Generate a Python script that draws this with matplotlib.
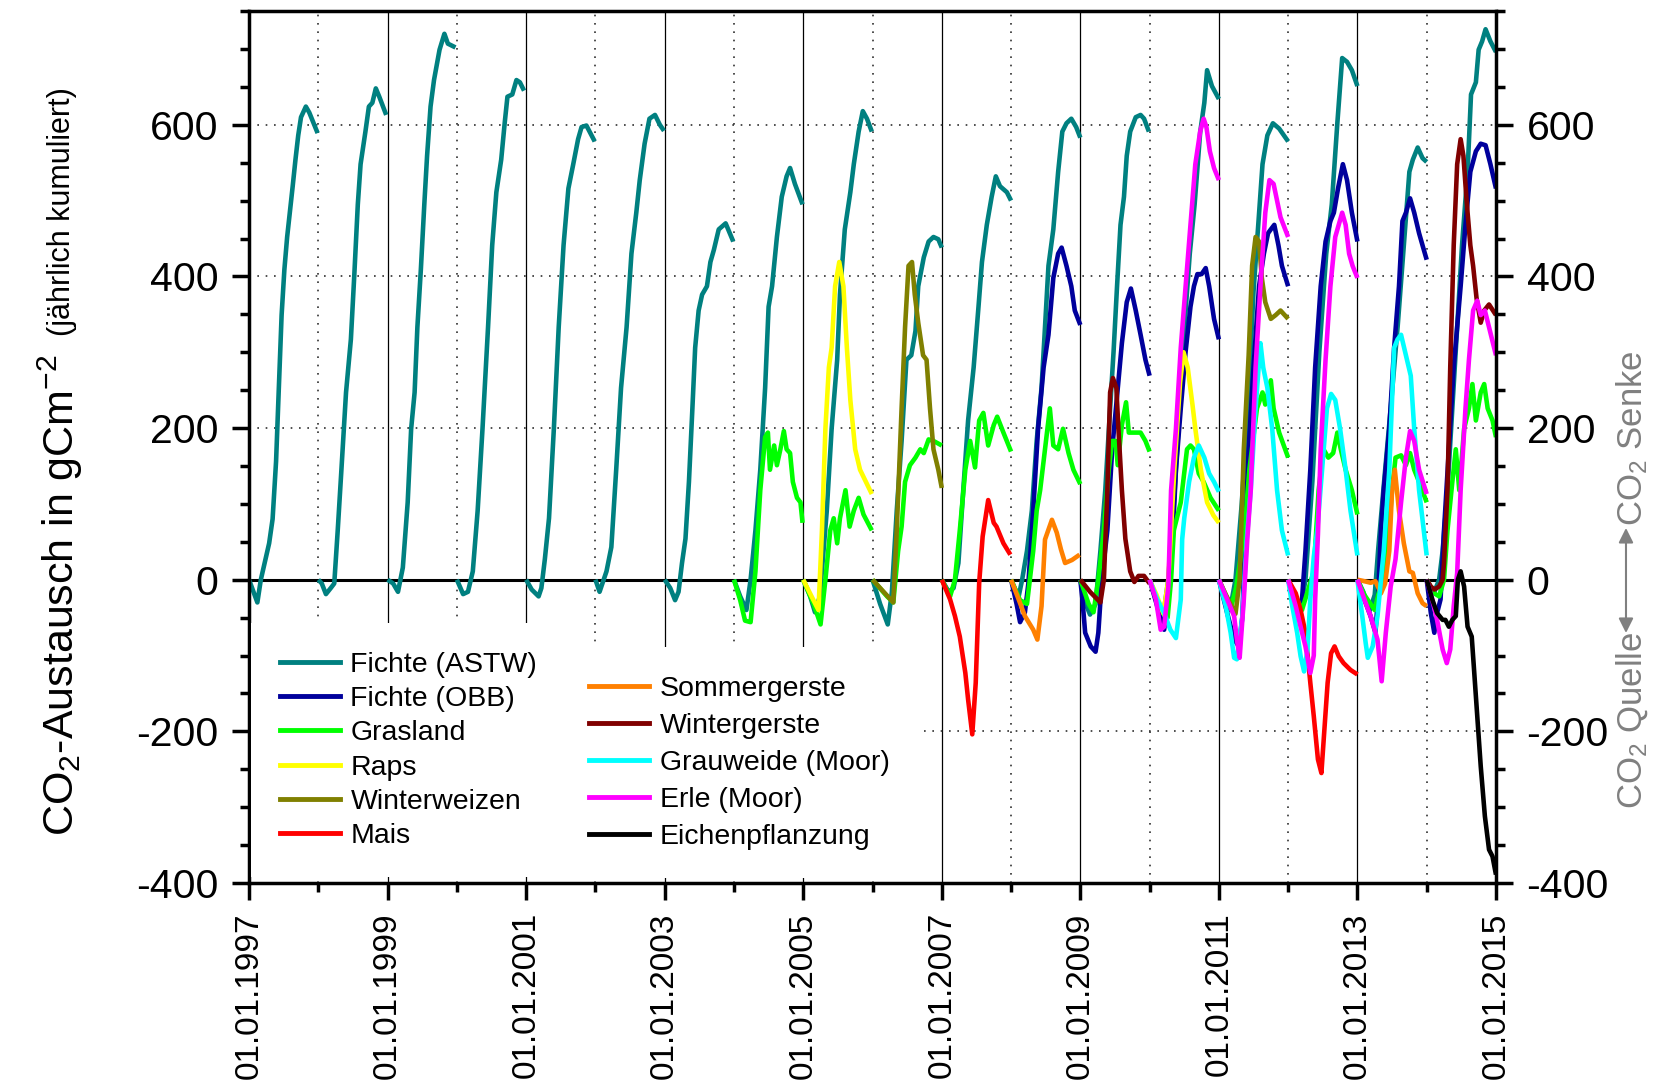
import numpy as np
import matplotlib
matplotlib.use('Agg')
import matplotlib.pyplot as plt
from matplotlib.ticker import MultipleLocator
from matplotlib.lines import Line2D

# cumulated CO2 exchange: one list of (time, value) per year
fichte_astw = [
    [(1997.00, 0), (1997.06, -15), (1997.12, -30), (1997.17, 0), (1997.29, 48), (1997.34, 80), (1997.39, 156),
     (1997.43, 253), (1997.47, 349), (1997.51, 409), (1997.55, 452), (1997.63, 519), (1997.67, 554),
     (1997.71, 586), (1997.75, 610), (1997.82, 624), (1997.87, 616), (1997.99, 589)],
    [(1998.00, 0), (1998.05, -5), (1998.11, -19), (1998.18, -11), (1998.23, -5), (1998.28, 65), (1998.33, 140),
     (1998.40, 247), (1998.47, 317), (1998.52, 403), (1998.57, 495), (1998.61, 548), (1998.68, 591),
     (1998.73, 624), (1998.78, 629), (1998.83, 648), (1998.88, 637), (1998.98, 613)],
    [(1999.00, 0), (1999.08, -5), (1999.15, -16), (1999.22, 16), (1999.29, 102), (1999.34, 199), (1999.39, 247),
     (1999.43, 333), (1999.48, 409), (1999.53, 495), (1999.57, 559), (1999.62, 624), (1999.67, 659),
     (1999.75, 699), (1999.82, 720), (1999.87, 707), (1999.98, 702)],
    [(2000.00, 0), (2000.09, -19), (2000.16, -16), (2000.23, 11), (2000.30, 91), (2000.37, 199), (2000.45, 333),
     (2000.51, 441), (2000.57, 511), (2000.64, 554), (2000.69, 602), (2000.73, 637), (2000.80, 640),
     (2000.86, 659), (2000.91, 656), (2000.97, 645)],
    [(2001.00, 0), (2001.08, -13), (2001.18, -22), (2001.22, -11), (2001.27, 27), (2001.33, 81), (2001.40, 199),
     (2001.47, 333), (2001.54, 441), (2001.61, 516), (2001.68, 548), (2001.75, 581), (2001.80, 597),
     (2001.87, 599), (2001.99, 578)],
    [(2002.00, 0), (2002.06, -16), (2002.16, 11), (2002.23, 43), (2002.30, 145), (2002.37, 253), (2002.45, 333),
     (2002.52, 430), (2002.59, 484), (2002.64, 527), (2002.71, 575), (2002.78, 608), (2002.86, 613),
     (2002.93, 600), (2002.99, 592)],
    [(2003.00, 0), (2003.08, -11), (2003.15, -27), (2003.20, -16), (2003.25, 22), (2003.30, 54), (2003.35, 129),
     (2003.40, 226), (2003.44, 306), (2003.49, 355), (2003.54, 376), (2003.61, 387), (2003.66, 419),
     (2003.71, 435), (2003.78, 462), (2003.88, 470), (2003.99, 446)],
    [(2004.00, 0), (2004.09, -22), (2004.18, -40), (2004.24, 0), (2004.31, 65), (2004.38, 145), (2004.45, 253),
     (2004.50, 360), (2004.55, 387), (2004.62, 452), (2004.69, 505), (2004.76, 532), (2004.81, 543),
     (2004.88, 522), (2004.99, 495)],
    [(2005.00, 0), (2005.10, -22), (2005.17, -43), (2005.24, -22), (2005.34, 91), (2005.41, 199), (2005.49, 290),
     (2005.53, 376), (2005.60, 462), (2005.68, 511), (2005.73, 548), (2005.80, 591), (2005.86, 618),
     (2005.92, 608), (2005.99, 591)],
    [(2006.00, 0), (2006.11, -32), (2006.22, -59), (2006.28, -16), (2006.35, 91), (2006.42, 183), (2006.49, 290),
     (2006.56, 296), (2006.62, 328), (2006.66, 387), (2006.74, 425), (2006.81, 446), (2006.88, 452),
     (2006.95, 449), (2007.00, 438)],
    [(2007.00, 0), (2007.10, -16), (2007.17, -11), (2007.24, 22), (2007.31, 118), (2007.38, 210), (2007.46, 280),
     (2007.53, 360), (2007.58, 419), (2007.65, 468), (2007.72, 505), (2007.78, 532), (2007.84, 519),
     (2007.94, 511), (2008.00, 500)],
    [(2008.00, 0), (2008.07, -15), (2008.11, -22), (2008.16, 0), (2008.23, 38), (2008.30, 91), (2008.37, 183),
     (2008.44, 253), (2008.49, 333), (2008.54, 414), (2008.61, 462), (2008.68, 538), (2008.74, 591),
     (2008.80, 602), (2008.87, 608), (2008.94, 597), (2009.00, 583)],
    [(2009.00, 0), (2009.07, -30), (2009.14, -46), (2009.22, -32), (2009.29, 38), (2009.36, 118), (2009.43, 226),
     (2009.48, 301), (2009.53, 387), (2009.58, 468), (2009.63, 505), (2009.67, 559), (2009.72, 591),
     (2009.80, 610), (2009.87, 613), (2009.92, 608), (2009.99, 591)],
    [(2010.00, 0), (2010.10, -25), (2010.20, -45), (2010.27, 0), (2010.35, 100), (2010.43, 220), (2010.50, 330),
     (2010.58, 430), (2010.65, 495), (2010.73, 590), (2010.79, 629), (2010.83, 672), (2010.90, 651),
     (2011.00, 634)],
    [(2011.00, 0), (2011.08, -20), (2011.16, -40), (2011.24, 0), (2011.33, 100), (2011.42, 230), (2011.50, 380),
     (2011.57, 470), (2011.63, 548), (2011.70, 586), (2011.78, 602), (2011.87, 595), (2012.00, 578)],
    [(2012.00, 0), (2012.08, -20), (2012.17, -45), (2012.25, 0), (2012.35, 130), (2012.45, 300), (2012.55, 430),
     (2012.63, 495), (2012.71, 602), (2012.78, 688), (2012.85, 683), (2012.92, 672), (2013.00, 651)],
    [(2013.00, 0), (2013.08, -15), (2013.18, -40), (2013.25, -20), (2013.30, 40), (2013.38, 124), (2013.48, 226),
     (2013.58, 333), (2013.67, 441), (2013.75, 538), (2013.80, 554), (2013.87, 570), (2013.94, 556),
     (2014.00, 551)],
    [(2014.00, 0), (2014.06, -11), (2014.11, -16), (2014.18, 0), (2014.23, 38), (2014.30, 118), (2014.37, 226),
     (2014.44, 333), (2014.51, 441), (2014.59, 538), (2014.64, 640), (2014.71, 656), (2014.75, 699),
     (2014.80, 710), (2014.85, 726), (2014.92, 710), (2015.00, 696)],
]

fichte_obb = [
    [(2008.00, 0), (2008.08, -32), (2008.13, -56), (2008.20, -43), (2008.25, -5), (2008.32, 91), (2008.39, 199),
     (2008.47, 280), (2008.54, 323), (2008.61, 398), (2008.68, 430), (2008.73, 438), (2008.80, 414),
     (2008.87, 387), (2008.92, 355), (2009.00, 336)],
    [(2009.00, 0), (2009.03, -26), (2009.07, -70), (2009.15, -88), (2009.22, -95), (2009.26, -70), (2009.31, 0),
     (2009.39, 65), (2009.46, 172), (2009.53, 242), (2009.60, 312), (2009.67, 366), (2009.73, 384),
     (2009.80, 355), (2009.87, 323), (2009.94, 290), (2010.00, 269)],
    [(2010.00, 0), (2010.11, -35), (2010.21, -66), (2010.26, -26), (2010.33, 48), (2010.38, 145), (2010.45, 226),
     (2010.52, 301), (2010.59, 360), (2010.64, 387), (2010.69, 403), (2010.75, 403), (2010.81, 411),
     (2010.86, 387), (2010.93, 344), (2011.00, 317)],
    [(2011.00, 0), (2011.12, -44), (2011.22, -79), (2011.29, -88), (2011.34, -48), (2011.38, 65), (2011.43, 172),
     (2011.50, 280), (2011.58, 387), (2011.65, 430), (2011.71, 457), (2011.75, 462), (2011.80, 468),
     (2011.86, 441), (2011.91, 414), (2012.00, 387)],
    [(2012.00, 0), (2012.08, -26), (2012.15, -48), (2012.20, -26), (2012.25, 38), (2012.32, 145), (2012.39, 280),
     (2012.47, 387), (2012.54, 446), (2012.61, 473), (2012.66, 484), (2012.72, 516), (2012.79, 548),
     (2012.85, 527), (2012.92, 484), (2013.00, 446)],
    [(2013.00, 0), (2013.10, -26), (2013.19, -48), (2013.26, -70), (2013.30, -20), (2013.34, 65), (2013.38, 118),
     (2013.46, 199), (2013.53, 306), (2013.60, 387), (2013.65, 473), (2013.70, 484), (2013.76, 503),
     (2013.82, 484), (2013.89, 457), (2013.94, 441), (2014.00, 422)],
    [(2014.00, 0), (2014.06, -44), (2014.11, -70), (2014.15, -44), (2014.20, -26), (2014.25, 65), (2014.32, 172),
     (2014.39, 280), (2014.49, 387), (2014.56, 468), (2014.63, 538), (2014.71, 565), (2014.78, 575),
     (2014.85, 573), (2014.92, 548), (2015.00, 516)],
]

grasland = [
    [(2004.00, 0), (2004.09, -27), (2004.16, -54), (2004.24, -56), (2004.31, 11), (2004.38, 118), (2004.45, 188),
     (2004.49, 194), (2004.52, 145), (2004.58, 177), (2004.62, 151), (2004.67, 172), (2004.72, 196),
     (2004.76, 172), (2004.81, 167), (2004.85, 129), (2004.91, 108), (2004.96, 102), (2004.99, 75)],
    [(2005.00, 0), (2005.15, -32), (2005.25, -59), (2005.32, 0), (2005.39, 65), (2005.44, 81), (2005.49, 48),
     (2005.53, 81), (2005.61, 118), (2005.67, 70), (2005.73, 91), (2005.80, 108), (2005.87, 86), (2005.99, 65)],
    [(2006.00, 0), (2006.21, -22), (2006.30, -30), (2006.37, 38), (2006.42, 70), (2006.47, 129), (2006.54, 151),
     (2006.62, 161), (2006.69, 172), (2006.74, 167), (2006.81, 185), (2006.88, 183), (2007.00, 177)],
    [(2007.00, 0), (2007.12, -22), (2007.19, 0), (2007.26, 65), (2007.34, 145), (2007.41, 183), (2007.48, 148),
     (2007.54, 210), (2007.60, 220), (2007.67, 177), (2007.75, 204), (2007.80, 215), (2007.89, 194),
     (2008.00, 169)],
    [(2008.00, 0), (2008.13, -27), (2008.23, -32), (2008.32, 38), (2008.37, 91), (2008.42, 118), (2008.49, 172),
     (2008.56, 226), (2008.61, 177), (2008.68, 172), (2008.75, 199), (2008.83, 167), (2008.90, 145),
     (2009.00, 126)],
    [(2009.00, 0), (2009.12, -32), (2009.19, -43), (2009.26, 0), (2009.34, 65), (2009.41, 145), (2009.46, 183),
     (2009.51, 183), (2009.54, 151), (2009.60, 204), (2009.66, 234), (2009.70, 194), (2009.77, 194),
     (2009.87, 194), (2009.94, 183), (2010.00, 169)],
    [(2010.00, 0), (2010.10, -25), (2010.20, -44), (2010.26, -50), (2010.31, 0), (2010.35, 65), (2010.45, 102),
     (2010.54, 172), (2010.59, 177), (2010.64, 172), (2010.71, 140), (2010.78, 129), (2010.88, 108),
     (2011.00, 91)],
    [(2011.00, 0), (2011.10, -20), (2011.18, -35), (2011.25, -10), (2011.37, 65), (2011.44, 145), (2011.55, 226),
     (2011.63, 247), (2011.67, 231), (2011.75, 263), (2011.79, 226), (2011.87, 194), (2012.00, 161)],
    [(2012.00, 0), (2012.10, -20), (2012.20, -40), (2012.30, -10), (2012.37, 11), (2012.44, 118), (2012.51, 172),
     (2012.58, 161), (2012.65, 167), (2012.71, 194), (2012.76, 172), (2012.83, 145), (2012.92, 118),
     (2013.00, 86)],
    [(2013.00, 0), (2013.10, -20), (2013.25, -40), (2013.35, 0), (2013.43, 38), (2013.50, 118), (2013.55, 161),
     (2013.63, 164), (2013.70, 151), (2013.76, 167), (2013.82, 145), (2013.89, 129), (2014.00, 102)],
    [(2014.00, 0), (2014.11, -18), (2014.18, -22), (2014.25, 0), (2014.30, 65), (2014.37, 129), (2014.42, 172),
     (2014.47, 118), (2014.54, 199), (2014.61, 226), (2014.66, 258), (2014.71, 210), (2014.78, 247),
     (2014.83, 258), (2014.88, 226), (2014.95, 210), (2015.00, 188)],
]

raps = [
    [(2005.00, 0), (2005.12, -22), (2005.22, -40), (2005.27, 65), (2005.32, 199), (2005.37, 280), (2005.41, 306),
     (2005.46, 387), (2005.52, 419), (2005.58, 387), (2005.63, 306), (2005.68, 237), (2005.75, 172),
     (2005.82, 145), (2005.99, 113)],
    [(2010.00, 0), (2010.10, -20), (2010.20, -45), (2010.27, 0), (2010.36, 150), (2010.44, 260), (2010.49, 300),
     (2010.55, 280), (2010.62, 230), (2010.66, 199), (2010.74, 145), (2010.83, 102), (2010.92, 85),
     (2011.00, 75)],
]

winterweizen = [
    [(2006.00, 0), (2006.16, -16), (2006.30, -30), (2006.35, 65), (2006.42, 226), (2006.47, 333), (2006.52, 414),
     (2006.57, 419), (2006.61, 376), (2006.66, 339), (2006.73, 296), (2006.78, 290), (2006.83, 226),
     (2006.88, 172), (2006.95, 145), (2007.00, 121)],
    [(2011.00, 0), (2011.10, -20), (2011.24, -45), (2011.30, 0), (2011.36, 172), (2011.43, 296), (2011.48, 414),
     (2011.53, 452), (2011.58, 446), (2011.62, 398), (2011.67, 366), (2011.75, 344), (2011.82, 349),
     (2011.89, 355), (2012.00, 344)],
]

mais = [
    [(2007.00, 0), (2007.12, -26), (2007.19, -48), (2007.26, -75), (2007.34, -123), (2007.38, -158),
     (2007.44, -204), (2007.49, -136), (2007.54, -4), (2007.59, 57), (2007.67, 105), (2007.75, 75),
     (2007.79, 70), (2007.89, 48), (2007.99, 33)],
    [(2012.00, 0), (2012.11, -18), (2012.18, -40), (2012.25, -70), (2012.32, -136), (2012.37, -180),
     (2012.43, -237), (2012.48, -255), (2012.52, -202), (2012.57, -136), (2012.62, -97), (2012.67, -88),
     (2012.73, -101), (2012.80, -110), (2012.90, -119), (2013.00, -125)],
]

sommergerste = [
    [(2008.00, 0), (2008.11, -26), (2008.20, -48), (2008.32, -66), (2008.38, -79), (2008.44, -35), (2008.49, 53),
     (2008.59, 79), (2008.66, 62), (2008.72, 40), (2008.78, 22), (2008.88, 26), (2008.99, 33)],
    [(2013.00, 0), (2013.10, -2), (2013.19, -4), (2013.26, -2), (2013.34, -18), (2013.40, -5), (2013.46, 38),
     (2013.50, 118), (2013.54, 145), (2013.60, 91), (2013.67, 48), (2013.75, 11), (2013.80, 9), (2013.87, -18),
     (2013.94, -31), (2014.00, -35)],
]

wintergerste = [
    [(2009.00, 0), (2009.14, -16), (2009.29, -30), (2009.34, 0), (2009.39, 118), (2009.43, 247), (2009.47, 266),
     (2009.52, 253), (2009.55, 199), (2009.60, 118), (2009.65, 54), (2009.72, 11), (2009.78, -3), (2009.84, 5),
     (2009.92, 5), (2010.00, -5)],
    [(2014.00, 0), (2014.06, -9), (2014.11, -13), (2014.18, -9), (2014.23, 0), (2014.25, 22), (2014.30, 118),
     (2014.34, 280), (2014.39, 441), (2014.44, 548), (2014.49, 581), (2014.53, 559), (2014.58, 495),
     (2014.63, 441), (2014.67, 414), (2014.72, 371), (2014.78, 339), (2014.83, 355), (2014.90, 363),
     (2015.00, 349)],
]

grauweide = [
    [(2010.00, 0), (2010.11, -26), (2010.21, -44), (2010.30, -66), (2010.38, -77), (2010.45, -26), (2010.47, 53),
     (2010.50, 81), (2010.57, 129), (2010.64, 161), (2010.71, 177), (2010.79, 161), (2010.86, 140),
     (2010.93, 129), (2011.00, 116)],
    [(2011.00, 0), (2011.10, -35), (2011.17, -70), (2011.22, -103), (2011.26, -105), (2011.34, -48), (2011.40, 50),
     (2011.46, 118), (2011.53, 226), (2011.60, 312), (2011.64, 280), (2011.70, 253), (2011.77, 199),
     (2011.84, 118), (2011.91, 65), (2012.00, 32)],
    [(2012.00, 0), (2012.06, -35), (2012.13, -70), (2012.18, -101), (2012.23, -121), (2012.28, -92),
     (2012.32, -26), (2012.37, 30), (2012.42, 65), (2012.49, 145), (2012.56, 226), (2012.62, 245),
     (2012.68, 237), (2012.75, 199), (2012.83, 145), (2012.90, 91), (2013.00, 32)],
    [(2013.00, 0), (2013.07, -48), (2013.12, -84), (2013.15, -103), (2013.22, -88), (2013.29, -48), (2013.34, 0),
     (2013.38, 38), (2013.46, 145), (2013.53, 306), (2013.58, 317), (2013.63, 323), (2013.70, 296),
     (2013.77, 269), (2013.82, 199), (2013.89, 118), (2014.00, 32)],
]

erle = [
    [(2010.00, 0), (2010.09, -26), (2010.16, -66), (2010.21, -62), (2010.27, -9), (2010.31, 118), (2010.38, 199),
     (2010.45, 306), (2010.52, 387), (2010.59, 468), (2010.66, 548), (2010.73, 591), (2010.78, 608),
     (2010.82, 597), (2010.87, 565), (2010.93, 543), (2011.00, 527)],
    [(2011.00, 0), (2011.12, -26), (2011.22, -48), (2011.26, -79), (2011.30, -103), (2011.36, -26), (2011.41, 53),
     (2011.46, 118), (2011.53, 280), (2011.60, 387), (2011.67, 484), (2011.73, 527), (2011.79, 522),
     (2011.84, 500), (2011.89, 478), (2012.00, 452)],
    [(2012.00, 0), (2012.11, -35), (2012.18, -62), (2012.25, -88), (2012.32, -123), (2012.37, -100),
     (2012.39, -26), (2012.43, 60), (2012.47, 172), (2012.54, 290), (2012.61, 387), (2012.68, 452),
     (2012.78, 484), (2012.83, 468), (2012.88, 430), (2012.93, 414), (2013.00, 398)],
    [(2013.00, 0), (2013.10, -26), (2013.19, -48), (2013.29, -79), (2013.35, -134), (2013.41, -70),
     (2013.48, -9), (2013.55, 27), (2013.63, 102), (2013.70, 161), (2013.76, 196), (2013.82, 183),
     (2013.89, 145), (2014.00, 113)],
    [(2014.00, 0), (2014.08, -26), (2014.15, -53), (2014.23, -92), (2014.29, -110), (2014.34, -92),
     (2014.39, -35), (2014.44, 9), (2014.49, 118), (2014.56, 226), (2014.61, 290), (2014.67, 355),
     (2014.73, 368), (2014.78, 349), (2014.84, 355), (2014.90, 333), (2015.00, 296)],
]

eichenpflanzung = [
    [(2014.00, 0), (2014.08, -26), (2014.15, -44), (2014.23, -53), (2014.27, -53), (2014.32, -62), (2014.37, -53),
     (2014.42, -48), (2014.45, 0), (2014.49, 11), (2014.54, -9), (2014.59, -62), (2014.65, -75), (2014.68, -114),
     (2014.73, -180), (2014.78, -246), (2014.84, -312), (2014.90, -356), (2014.95, -365), (2015.00, -389)],
]

series = [
    ("Fichte (ASTW)", "#008080", fichte_astw),
    ("Fichte (OBB)", "#00009C", fichte_obb),
    ("Grasland", "#00FF00", grasland),
    ("Raps", "#FFFF00", raps),
    ("Winterweizen", "#808000", winterweizen),
    ("Mais", "#FF0000", mais),
    ("Sommergerste", "#FF8000", sommergerste),
    ("Wintergerste", "#800000", wintergerste),
    ("Grauweide (Moor)", "#00FFFF", grauweide),
    ("Erle (Moor)", "#FF00FF", erle),
    ("Eichenpflanzung", "#000000", eichenpflanzung),
]

major_years = list(range(1997, 2016, 2))
minor_years = list(range(1998, 2015, 2))

plt.rcParams['font.family'] = ['Liberation Sans', 'DejaVu Sans']
plt.rcParams['mathtext.fontset'] = 'custom'
plt.rcParams['mathtext.rm'] = 'Liberation Sans'
plt.rcParams['mathtext.it'] = 'Liberation Sans:italic'
plt.rcParams['mathtext.bf'] = 'Liberation Sans:bold'
plt.rcParams['axes.unicode_minus'] = False
narrow = ['Liberation Sans Narrow', 'Liberation Sans', 'DejaVu Sans']

fig = plt.figure(figsize=(16.67, 10.83), dpi=100)
ax = fig.add_axes([0.1494, 0.1847, 0.7480, 0.8051])

# year separators and grid
for yr in major_years[1:-1]:
    ax.axvline(yr, color='black', lw=0.9, zorder=1)
for yr in minor_years:
    ax.axvline(yr, color='#303030', lw=1.2, ls=(0, (1, 4)), zorder=1)
for v in [-200, 200, 400, 600]:
    ax.axhline(v, color='#303030', lw=1.2, ls=(0, (1, 4)), zorder=1)
ax.axhline(0, color='black', lw=2.2, zorder=1.5)

handles = []
for label, color, segs in series:
    for seg in segs:
        t, v = zip(*seg)
        ax.plot(t, v, color=color, lw=3.3, solid_joinstyle='round', solid_capstyle='butt', zorder=2)
    handles.append(Line2D([], [], color=color, lw=3.5, label=label))

ax.set_xlim(1997, 2015)
ax.set_ylim(-400, 750)

ax.set_xticks(major_years)
ax.set_xticklabels(['01.01.%d' % y for y in major_years], rotation=90)
ax.set_xticks(minor_years, minor=True)
ax.yaxis.set_major_locator(MultipleLocator(200))
ax.yaxis.set_minor_locator(MultipleLocator(50))

ax.tick_params(axis='x', which='major', direction='out', length=12, width=2.5, labelsize=24, pad=9)
ax.tick_params(axis='x', which='minor', direction='out', length=6.5, width=2.5)
ax.tick_params(axis='y', which='both', left=True, right=True, labelleft=True, labelright=True, direction='out')
ax.tick_params(axis='y', which='major', length=12, width=2.5, labelsize=29.5, pad=10)
ax.tick_params(axis='y', which='minor', length=6.5, width=2.5)
for sp in ax.spines.values():
    sp.set_linewidth(2.5)

leg_kw = dict(loc='upper left', bbox_transform=fig.transFigure, borderaxespad=0, borderpad=1.0,
              fontsize=20.5, handlelength=2.1, handletextpad=0.38, frameon=True,
              fancybox=False, framealpha=1, edgecolor='none', facecolor='white')
leg1 = ax.legend(handles=handles[:6], bbox_to_anchor=(0.1508, 0.4245), labelspacing=0.29, **leg_kw)
ax.add_artist(leg1)
leg2 = ax.legend(handles=handles[6:], bbox_to_anchor=(0.3365, 0.4025), labelspacing=0.39, **leg_kw)

# axis titles
fig.text(0.0444, 0.4506, 'CO$\\mathregular{_2}$-Austausch in gCm$\\mathregular{^{-2}}$', rotation=90,
         rotation_mode='anchor', ha='center', va='baseline', fontsize=31)
fig.text(0.0420, 0.8043, '(jährlich kumuliert)', rotation=90, rotation_mode='anchor',
         ha='center', va='baseline', fontsize=22, family=narrow)

grey = '#808080'
fig.text(0.985, 0.5955, 'CO$\\mathregular{_2}$ Senke', rotation=90, rotation_mode='anchor',
         ha='center', va='baseline', fontsize=25, color=grey, family=narrow)
fig.text(0.985, 0.335, 'CO$\\mathregular{_2}$ Quelle', rotation=90, rotation_mode='anchor',
         ha='center', va='baseline', fontsize=25, color=grey, family=narrow)
ax.annotate('', xy=(0.9754, 0.5125), xytext=(0.9754, 0.4155), xycoords='figure fraction',
            textcoords='figure fraction',
            arrowprops=dict(arrowstyle='<|-|>', color=grey, lw=1.5, mutation_scale=22, shrinkA=0, shrinkB=0))

fig.savefig('out.png', dpi=100)
